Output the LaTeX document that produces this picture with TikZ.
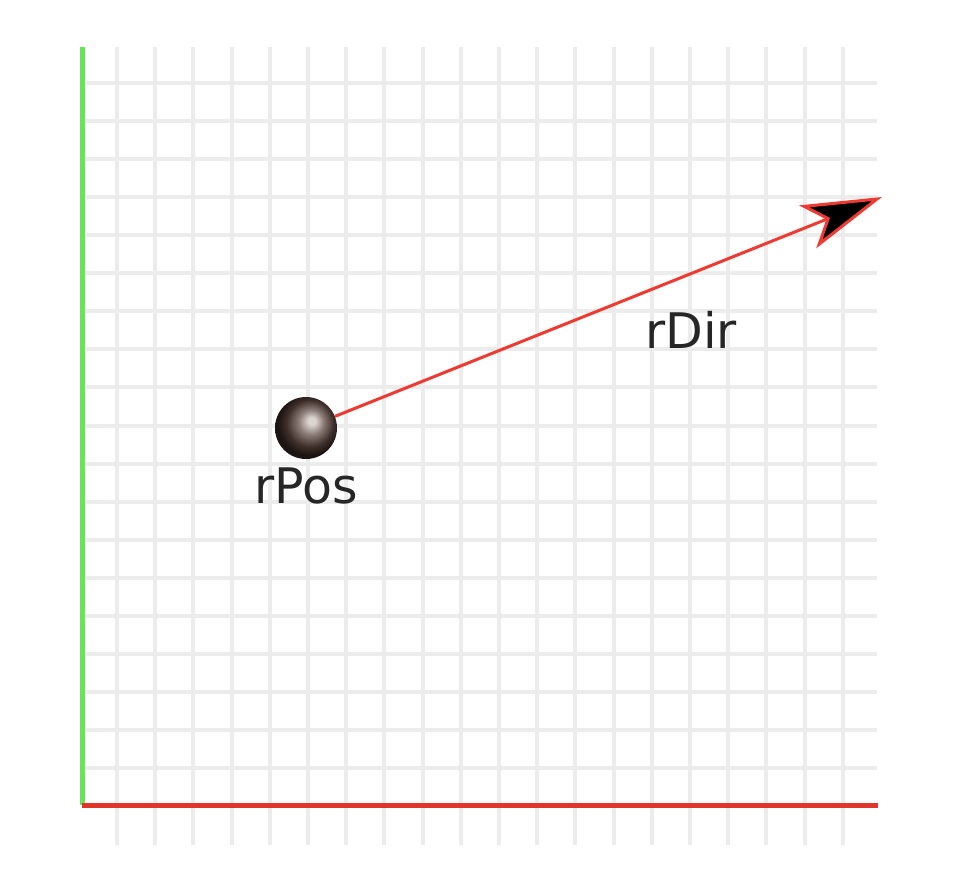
\documentclass[tikz,border=0pt]{standalone}
\usepackage{fontspec}
\setmainfont{DejaVu Sans}
\usetikzlibrary{arrows.meta}
\definecolor{gridgray}{HTML}{ECECEC}
\definecolor{axisgreen}{HTML}{66E655}
\definecolor{axisred}{HTML}{E0352B}
\definecolor{dirred}{HTML}{EE3A30}
\definecolor{ballhi}{HTML}{DCD4D0}
\definecolor{ballmid}{HTML}{8C7C77}
\definecolor{balldark}{HTML}{3E2E2A}
\definecolor{balledge}{HTML}{1C1412}
\pgfdeclareradialshading{ballshade}{\pgfpoint{5bp}{6bp}}{color(0bp)=(ballhi); color(3bp)=(ballhi); color(10bp)=(ballmid); color(19bp)=(balldark); color(25bp)=(balledge); color(50bp)=(balledge)}
\tikzset{
  gridline/.style={gridgray, line width=4pt},
  axisline/.style={line width=5pt},
  lbl/.style={font=\fontsize{49}{49}\selectfont, text=black!85, inner sep=0pt, anchor=base},
  dirarrow/.style={dirred, line width=3pt, -{Stealth[length=80pt,width=46pt,inset=20pt,fill=black]}},
}
\begin{document}
\begin{tikzpicture}[x=1pt,y=-1pt]
\fill[white] (0,0) rectangle (958,880);
\useasboundingbox (0,0) rectangle (958,880);
% grid
\foreach \k in {0,...,19} \draw[gridline] ({117+38.2*\k},47) -- ({117+38.2*\k},845);
\foreach \k in {0,...,18} \draw[gridline] (82,{83+38.06*\k}) -- (877,{83+38.06*\k});
% axes
\coordinate (ytop) at (82,47);
\coordinate (origin) at (82,805);
\coordinate (xend) at (878,805);
\draw[axisline, axisgreen] (ytop) -- (origin);
\draw[axisline, axisred] (origin) -- (xend);
% ball and direction
\node[circle, minimum size=62pt, inner sep=0pt, shading=ballshade] (ball) at (306,428) {};
\coordinate (tip) at (882,197);
\draw[dirarrow] (ball) -- (tip);
\node[lbl] (rdir) at (691,348) {rDir};
\node[lbl] (rpos) at (306,503) {rPos};
\end{tikzpicture}
\end{document}
